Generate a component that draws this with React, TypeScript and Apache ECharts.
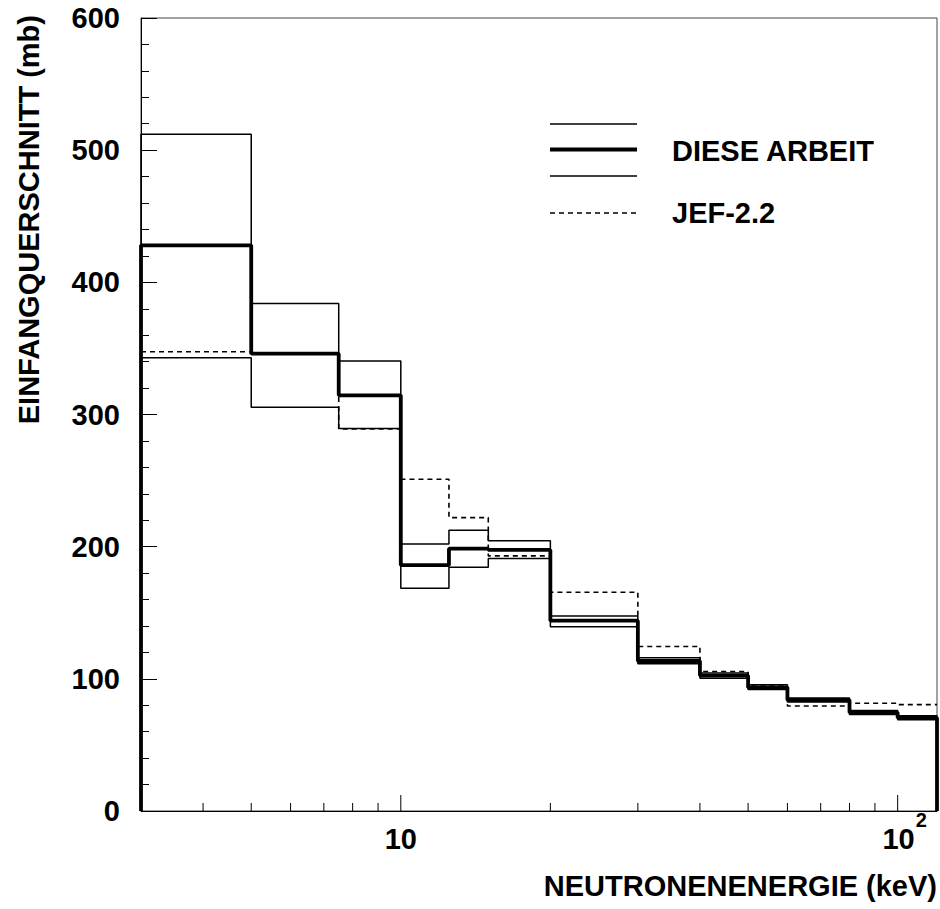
import React, { useEffect, useRef } from "react";
import * as echarts from "echarts";

// Bin edges (keV)
const edges = [3, 5, 7.5, 10, 12.5, 15, 20, 30, 40, 50, 60, 80, 100, 120];
// DIESE ARBEIT (central values, mb)
const dieseArbeit = [428, 346, 314.5, 186, 198.5, 197.5, 144, 113.5, 102.5, 93.5, 84, 74.5, 70.5];
// DIESE ARBEIT upper band
const dieseUpper = [512, 384, 340.5, 202, 212.5, 204.5, 147.5, 116, 104.5, 95.5, 85.5, 76, 72];
// DIESE ARBEIT lower band
const dieseLower = [343, 305.5, 289.5, 168.5, 184.5, 191, 139.5, 111.5, 100.5, 92, 82.5, 73, 69];
// JEF-2.2 evaluation
const jef22 = [347.5, 346.5, 289, 251, 222, 193, 165.5, 124.5, 105.5, 94.5, 79.5, 81.5, 80.5];

const xMajorTicks = [10, 100];
const xMinorTicks = [4, 5, 6, 7, 8, 9, 20, 30, 40, 50, 60, 70, 80, 90];

const FONT = "'Liberation Sans', Arial, Helvetica, sans-serif";
const FS = 29;

function stepPoints(values: number[], closed: boolean): number[][] {
  const pts: number[][] = [];
  if (closed) pts.push([edges[0], 0]);
  values.forEach((v, i) => {
    pts.push([edges[i], v]);
    pts.push([edges[i + 1], v]);
  });
  if (closed) pts.push([edges[edges.length - 1], 0]);
  return pts;
}

function tickSeries(ticks: number[], len: number) {
  return {
    type: "custom",
    silent: true,
    clip: false,
    data: ticks.map((t) => [t, 0]),
    encode: { x: 0, y: 1 },
    renderItem: (params: any, api: any) => {
      const p = api.coord([api.value(0), 0]);
      return {
        type: "line",
        shape: { x1: p[0], y1: p[1], x2: p[0], y2: p[1] - len },
        style: { stroke: "#000", lineWidth: 1 },
      };
    },
  };
}

export default function App() {
  const ref = useRef<HTMLDivElement>(null);
  useEffect(() => {
    if (!ref.current) return;
    const chart = echarts.init(ref.current, undefined, { renderer: "svg" });
    const isPow = (v: number, p: number) => Math.abs(v - p) < 1e-6 * p;
    const option: any = {
      animation: false,
      backgroundColor: "#fff",
      grid: {
        left: 141,
        right: 3,
        top: 18,
        bottom: 98,
        show: true,
        borderColor: "#444",
        borderWidth: 1,
        backgroundColor: "transparent",
      },
      xAxis: {
        type: "log",
        logBase: 10,
        min: 3,
        max: 120,
        axisLine: { show: true, lineStyle: { color: "#000", width: 1 } },
        axisTick: { show: false },
        minorTick: { show: false },
        splitLine: { show: false },
        axisLabel: {
          margin: 13,
          showMinLabel: false,
          showMaxLabel: false,
          formatter: (v: number) => {
            if (isPow(v, 10)) return "{n|10}";
            if (isPow(v, 100)) return "{n2|10}{s|2}";
            return "";
          },
          rich: {
            n: {
              fontSize: FS,
              fontWeight: "bold",
              fontFamily: FONT,
              color: "#000",
              lineHeight: FS,
              padding: [14, 0, 0, 0],
              verticalAlign: "bottom",
            },
            n2: {
              fontSize: FS,
              fontWeight: "bold",
              fontFamily: FONT,
              color: "#000",
              lineHeight: FS,
              padding: [0, 0, 0, 14],
              verticalAlign: "bottom",
            },
            s: {
              fontSize: 20,
              fontWeight: "bold",
              fontFamily: FONT,
              color: "#000",
              lineHeight: 20,
              padding: [0, 0, 23, 1],
              verticalAlign: "bottom",
            },
          },
        },
      },
      yAxis: {
        type: "value",
        min: 0,
        max: 600,
        interval: 100,
        axisLine: { show: true, lineStyle: { color: "#000", width: 1 } },
        axisTick: { show: true, inside: true, length: 16, lineStyle: { color: "#000", width: 1 } },
        minorTick: { show: true, splitNumber: 5, length: 8, lineStyle: { color: "#000", width: 1 } },
        splitLine: { show: false },
        minorSplitLine: { show: false },
        axisLabel: {
          margin: 21,
          fontSize: FS,
          fontWeight: "bold",
          fontFamily: FONT,
          color: "#000",
        },
      },
      series: [
        tickSeries(xMajorTicks, 16),
        tickSeries(xMinorTicks, 8),
        {
          name: "DIESE ARBEIT (obere Grenze)",
          type: "line",
          data: stepPoints(dieseUpper, true),
          symbol: "none",
          lineStyle: { color: "#000", width: 1.5 },
          z: 3,
        },
        {
          name: "DIESE ARBEIT (untere Grenze)",
          type: "line",
          data: stepPoints(dieseLower, true),
          symbol: "none",
          lineStyle: { color: "#000", width: 1.5 },
          z: 3,
        },
        {
          name: "DIESE ARBEIT",
          type: "line",
          data: stepPoints(dieseArbeit, true),
          symbol: "none",
          lineStyle: { color: "#000", width: 3.8 },
          z: 4,
        },
        {
          name: "JEF-2.2",
          type: "line",
          data: stepPoints(jef22, false),
          symbol: "none",
          lineStyle: { color: "#000", width: 1.6, type: [5, 4] },
          z: 5,
        },
      ],
      graphic: [
        {
          type: "line",
          shape: { x1: 550, y1: 124, x2: 637, y2: 124 },
          style: { stroke: "#000", lineWidth: 1.5 },
        },
        {
          type: "line",
          shape: { x1: 550, y1: 149.5, x2: 637, y2: 149.5 },
          style: { stroke: "#000", lineWidth: 3.8 },
        },
        {
          type: "line",
          shape: { x1: 550, y1: 176, x2: 637, y2: 176 },
          style: { stroke: "#000", lineWidth: 1.5 },
        },
        {
          type: "line",
          shape: { x1: 550, y1: 213, x2: 637, y2: 213 },
          style: { stroke: "#000", lineWidth: 1.6, lineDash: [5, 4] },
        },
        {
          type: "text",
          x: 672,
          y: 151,
          style: {
            text: "DIESE ARBEIT",
            font: `bold ${FS}px ${FONT}`,
            fill: "#000",
            align: "left",
            verticalAlign: "middle",
          },
        },
        {
          type: "text",
          x: 672,
          y: 213,
          style: {
            text: "JEF-2.2",
            font: `bold ${FS}px ${FONT}`,
            fill: "#000",
            align: "left",
            verticalAlign: "middle",
          },
        },
        {
          type: "text",
          x: 29,
          y: 15,
          rotation: Math.PI / 2,
          style: {
            text: "EINFANGQUERSCHNITT (mb)",
            font: `bold ${FS}px ${FONT}`,
            fill: "#000",
            align: "right",
            verticalAlign: "middle",
          },
        },
        {
          type: "text",
          x: 937,
          y: 886,
          style: {
            text: "NEUTRONENENERGIE (keV)",
            font: `bold ${FS}px ${FONT}`,
            fill: "#000",
            align: "right",
            verticalAlign: "middle",
          },
        },
      ],
    };
    chart.setOption(option);
    return () => chart.dispose();
  }, []);
  return (
    <div
      ref={ref}
      style={{ position: "fixed", left: 0, top: 0, width: 940, height: 909, background: "#fff" }}
    />
  );
}
